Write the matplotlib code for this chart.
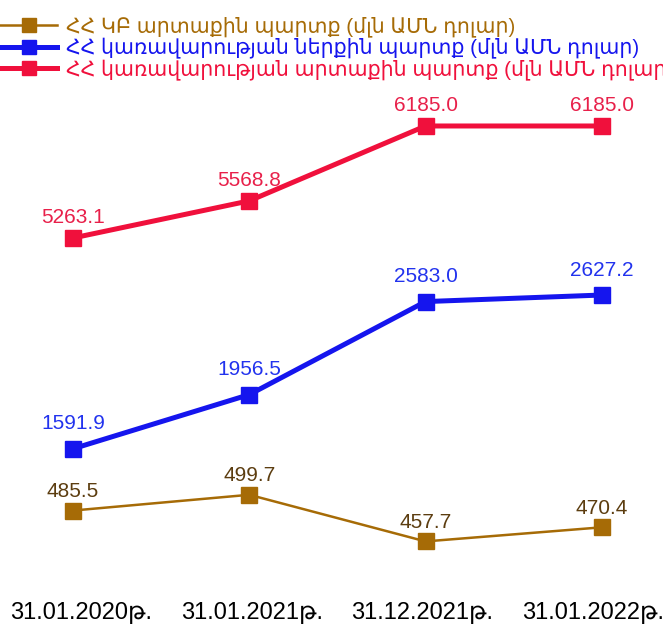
import matplotlib.pyplot as plt
from matplotlib.lines import Line2D

dates = ['31.01.2020թ.', '31.01.2021թ.', '31.12.2021թ.', '31.01.2022թ.']
cb_debt = [485.5, 499.7, 457.7, 470.4]
gov_domestic = [1591.9, 1956.5, 2583.0, 2627.2]
gov_external = [5263.1, 5568.8, 6185.0, 6185.0]

names = ['ՀՀ ԿԲ արտաքին պարտք (մլն ԱՄՆ դոլար)',
         'ՀՀ կառավարության ներքին պարտք (մլն ԱՄՆ դոլար)',
         'ՀՀ կառավարության արտաքին պարտք (մլն ԱՄՆ դոլար)']

fonts = ['Liberation Sans', 'DejaVu Sans']
plt.rcParams['font.family'] = fonts

fig = plt.figure(figsize=(6.63, 6.27), dpi=100)
x = range(len(dates))

# each series has its own vertical scale, like in the original
series = [
    (cb_debt, '#A66B06', '#5C3D10', 1.8, (380.6, 945.4), 7),
    (gov_domestic, '#1515EE', '#2233EE', 3.6, (391.6, 4613.9), 11),
    (gov_external, '#F0103C', '#E8204A', 3.6, (2061.5, 7221.9), 8),
]

for vals, col, tcol, lw, ylim, off in series:
    ax = fig.add_axes([0, 0, 1, 1])
    ax.patch.set_alpha(0)
    ax.plot(x, vals, color=col, lw=lw, marker='s', markersize=11.5, zorder=3)
    ax.set_xlim(-0.414, 3.347)
    ax.set_ylim(*ylim)
    for i, v in enumerate(vals):
        ax.annotate(f'{v:.1f}', (i, v), xytext=(0, off), textcoords='offset points',
                    ha='center', va='bottom', fontsize=15, color=tcol)
    ax.axis('off')

# x labels
axl = fig.add_axes([0, 0, 1, 1])
axl.patch.set_alpha(0)
axl.set_xlim(-0.4746, 3.41)
axl.set_ylim(0, 1)
for i, d in enumerate(dates):
    axl.text(i, 0.023, d, ha='center', va='center', fontsize=17, color='black')
axl.axis('off')

handles = [Line2D([], [], color=c[1], lw=c[3], marker='s', markersize=10) for c in series]
leg = fig.legend(handles, names, loc='upper left', bbox_to_anchor=(-0.025, 1.0),
                 frameon=False, fontsize=14.8, handlelength=2.8, handletextpad=0.4,
                 labelspacing=0.02, borderpad=0.3)
for t, c in zip(leg.get_texts(), series):
    t.set_color(c[1])

fig.savefig('out.png', dpi=100)
